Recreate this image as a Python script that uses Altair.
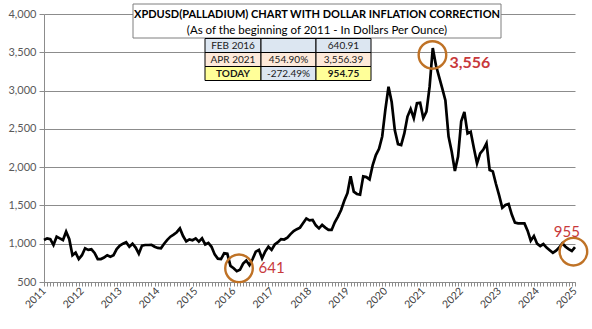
import altair as alt
import pandas as pd

# ---------------- data ----------------
START_YEAR = 2011
# monthly inflation-corrected palladium price, Jan 2011 .. Jan 2025
price_2011 = [1048, 1070, 1060, 983, 1092, 1070, 1048, 1157, 1060, 850, 883, 800]
price_2012 = [850, 940, 920, 927, 880, 800, 800, 820, 850, 830, 850, 930]
price_2013 = [975, 1000, 1020, 961, 1000, 950, 870, 975, 983, 983, 985, 960]
price_2014 = [945, 940, 1000, 1050, 1092, 1120, 1150, 1200, 1100, 1030, 1057, 1045]
price_2015 = [1070, 1027, 1070, 990, 1010, 960, 860, 805, 800, 875, 870, 710]
price_2016 = [680, 641, 660, 740, 780, 720, 800, 896, 918, 809, 900, 961]
price_2017 = [920, 990, 1020, 1060, 1055, 1080, 1125, 1165, 1190, 1210, 1270, 1330]
price_2018 = [1305, 1310, 1240, 1200, 1245, 1210, 1180, 1180, 1280, 1355, 1440, 1560]
price_2019 = [1660, 1880, 1680, 1650, 1640, 1880, 1870, 1840, 2028, 2158, 2240, 2400]
price_2020 = [2750, 3050, 2850, 2480, 2300, 2289, 2440, 2660, 2760, 2640, 2834, 2840]
price_2021 = [2640, 2725, 3051, 3556, 3330, 3180, 3030, 2870, 2400, 2200, 1950, 2137]
price_2022 = [2600, 2720, 2441, 2463, 2250, 2050, 2180, 2230, 2311, 1963, 1945, 1780]
price_2023 = [1630, 1470, 1505, 1520, 1380, 1275, 1266, 1266, 1266, 1170, 1040, 1100]
price_2024 = [1000, 970, 996, 950, 915, 880, 910, 950, 1005, 960, 930, 905]
price_2025 = [955]

price = (price_2011 + price_2012 + price_2013 + price_2014 + price_2015 + price_2016
         + price_2017 + price_2018 + price_2019 + price_2020 + price_2021 + price_2022
         + price_2023 + price_2024 + price_2025)
month_index = list(range(len(price)))

# highlighted points (circle centres) and their labels
circle_month = [61.7, 122.9, 167.5]
circle_value = [679, 3465, 896]
label_text = ["641", "3,556", "955"]
label_month = [67.9, 128.3, 165.4]
label_value = [679, 3360, 1153]
label_align = ["left", "left", "center"]
label_size = [15, 16, 15]
label_weight = ["normal", "bold", "normal"]

title_text = "XPDUSD(PALLADIUM) CHART WITH DOLLAR INFLATION CORRECTION"
subtitle_text = "(As of the beginning of 2011  - In Dollars Per Ounce)"

table_rows = [
    ["FEB 2016", "", "640.91"],
    ["APR 2021", "454.90%", "3,556.39"],
    ["TODAY", "-272.49%", "954.75"],
]
table_fills = [
    ["#DCE6F1", "#DCE6F1", "#DCE6F1"],
    ["#FDE9D9", "#FDE9D9", "#FDE9D9"],
    ["#FFFF99", "#DCE6F1", "#FFFF99"],
]
table_bold = [
    [False, False, False],
    [False, False, False],
    [True, False, True],
]

# ---------------- chart ----------------
FONT = "Lato"
W, H = 531, 268
df = pd.DataFrame({"m": month_index, "v": price})

x_scale = alt.Scale(domain=[0, 168], nice=False, zero=False)
y_scale = alt.Scale(domain=[500, 4000], nice=False, zero=False)

x_axis = alt.Axis(
    values=list(range(0, 169)),
    labelExpr="datum.value % 12 === 0 ? '' + (2011 + datum.value / 12) : ''",
    labelAngle=-45, labelAlign="right", labelBaseline="middle",
    labelOverlap=False, labelPadding=3, labelFontSize=10.5, labelFont=FONT,
    labelColor="#404040", tickSize=4, tickColor="#8c8c8c",
    domainColor="#8c8c8c", grid=False, title=None, labelBound=False,
)
y_axis = alt.Axis(
    values=list(range(500, 4001, 500)), format=",.0f", tickSize=5,
    tickColor="#8c8c8c", gridColor="#8c8c8c", domainColor="#8c8c8c",
    labelColor="#595959", labelFontSize=11, labelFont=FONT, labelPadding=3,
    title=None, labelOverlap=False,
)
x_enc = alt.X("m:Q", scale=x_scale, axis=x_axis)
y_enc = alt.Y("v:Q", scale=y_scale, axis=y_axis)

line = alt.Chart(df).mark_line(color="black", strokeWidth=2.7).encode(x=x_enc, y=y_enc)

ann_df = pd.DataFrame({"m": circle_month, "v": circle_value})
circles = alt.Chart(ann_df).mark_point(
    shape="circle", size=760, filled=False, stroke="#BF7226", strokeWidth=2.4, opacity=1
).encode(x=x_enc, y=y_enc)

label_layers = []
for t, m, v, a, s, w in zip(label_text, label_month, label_value, label_align, label_size, label_weight):
    label_layers.append(
        alt.Chart(pd.DataFrame({"m": [m], "v": [v], "t": [t]})).mark_text(
            align=a, baseline="middle", color="#C8393B", fontSize=s, fontWeight=w, font=FONT
        ).encode(x=x_enc, y=y_enc, text="t:N")
    )

one = pd.DataFrame({"a": [0]})
# title box
box_left, box_right, box_top, box_bottom = 89, 457, -10, 24
title_box = alt.Chart(one).mark_rect(fill="white", stroke="#7f7f7f", strokeWidth=1).encode(
    x=alt.value(box_left), x2=alt.value(box_right), y=alt.value(box_top), y2=alt.value(box_bottom)
)
title_mark = alt.Chart(one).mark_text(
    text=title_text, font=FONT, fontSize=11, fontWeight="bold", color="black",
    align="center", baseline="middle"
).encode(x=alt.value((box_left + box_right) / 2), y=alt.value(1))
subtitle_mark = alt.Chart(one).mark_text(
    text=subtitle_text, font=FONT, fontSize=11.5, color="black",
    align="center", baseline="middle"
).encode(x=alt.value((box_left + box_right) / 2), y=alt.value(17))

# table
col_edges = [161, 217, 272, 327]
row_edges = [24.5, 38.5, 52.5, 66.5]
table_layers = []
for r in range(3):
    for c in range(3):
        x0, x1 = col_edges[c], col_edges[c + 1]
        y0, y1 = row_edges[r], row_edges[r + 1]
        table_layers.append(
            alt.Chart(one).mark_rect(fill=table_fills[r][c], stroke="black", strokeWidth=1).encode(
                x=alt.value(x0), x2=alt.value(x1), y=alt.value(y0), y2=alt.value(y1)
            )
        )
        if table_rows[r][c]:
            table_layers.append(
                alt.Chart(one).mark_text(
                    text=table_rows[r][c], font=FONT, fontSize=10,
                    fontWeight="bold" if table_bold[r][c] else "normal",
                    color="#1a1a1a", align="center", baseline="middle"
                ).encode(x=alt.value((x0 + x1) / 2), y=alt.value((y0 + y1) / 2 + 0.5))
            )

chart = alt.layer(
    line, circles, *label_layers, title_box, title_mark, subtitle_mark, *table_layers
).properties(
    width=W, height=H,
    padding={"left": 44, "top": 14, "right": 17, "bottom": 47},
    autosize="none",
    background="white",
).configure_view(stroke=None)

chart.save("out.html", embed_options={"renderer": "svg", "actions": False})
